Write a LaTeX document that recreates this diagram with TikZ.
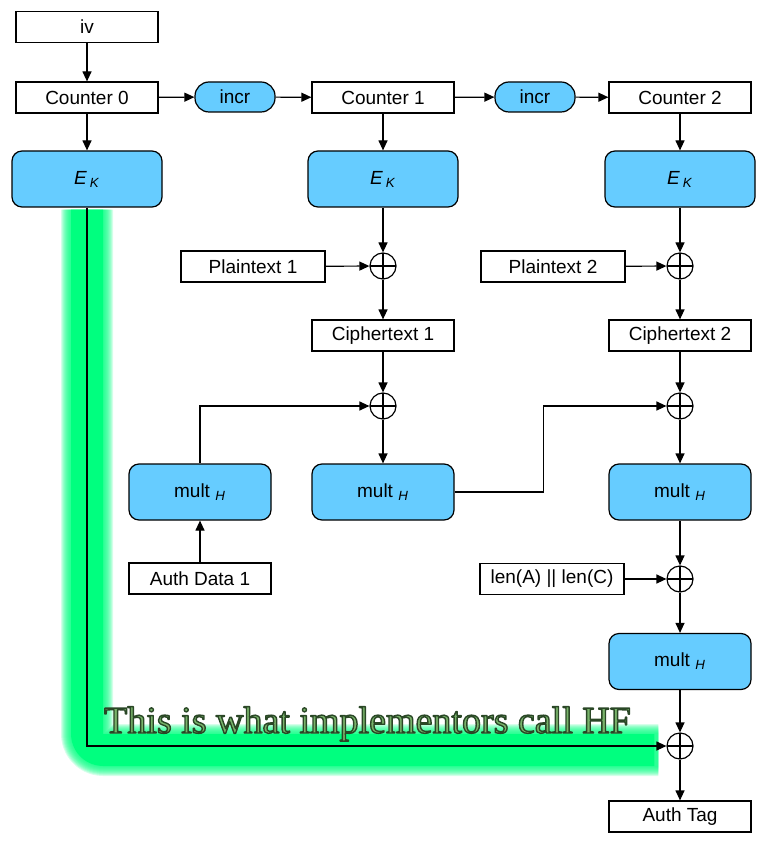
\documentclass[tikz,border=0pt]{standalone}
\usepackage{fontspec}
\setmainfont{Liberation Sans}
\newfontfamily\notefont{Liberation Serif}
\usetikzlibrary{
  arrows.meta,
  shapes,
  positioning,
  calc,
  backgrounds
}
\definecolor{gcmBlue}{HTML}{66CCFF}
\definecolor{gcmGlow}{HTML}{00FF7F}
\definecolor{gcmNote}{HTML}{78B36A}
\definecolor{gcmNoteDark}{HTML}{2A4726}
\tikzset{
  gcmnode/.style={
    draw, line width=0.6pt, font=\fontsize{9.5}{11}\selectfont, align=center, inner sep=0pt
  },
  databox/.style={gcmnode, fill=white, minimum width=71pt, minimum height=15.5pt},
  inbox/.style={databox, minimum width=72pt},
  cipher/.style={gcmnode, fill=gcmBlue, rounded corners=5pt, minimum width=75pt, minimum height=28pt},
  multbox/.style={gcmnode, fill=gcmBlue, rounded corners=5pt, minimum width=71pt, minimum height=28pt},
  incrbox/.style={gcmnode, fill=gcmBlue, rounded corners=7pt, minimum width=40pt, minimum height=15pt},
  xorop/.style={
    circle, draw, line width=0.6pt, fill=white, minimum size=13pt, inner sep=0pt,
    path picture={\draw[line width=0.6pt]
      (path picture bounding box.north) -- (path picture bounding box.south)
      (path picture bounding box.west) -- (path picture bounding box.east);}
  },
  flow/.style={-{Triangle[length=5pt,width=4.5pt]}, line width=0.6pt},
  glow/.style={gcmGlow, line join=round, rounded corners=8pt},
  notetext/.style={anchor=base, inner sep=0pt, font=\notefont\fontsize{19}{22}\selectfont}
}
\newcommand{\ek}{{\itshape E}\,\textsubscript{\itshape K}}
\newcommand{\mh}{mult \textsubscript{\itshape H}}
% filled and stroked text
\newcommand{\outlined}[1]{\leavevmode{\color{gcmNote}%
  \special{pdf:literal direct 0.165 0.278 0.149 RG 0.7 w 1 j 2 Tr}#1%
  \special{pdf:literal direct 0 Tr}}}

\begin{document}
\begin{tikzpicture}[x=0.5pt, y=-0.5pt]
  \useasboundingbox (0,0) rectangle (768,844);
  % counters
  \node[databox] (iv) at (87,27) {iv};
  \node[databox] (ctr0) at (87,97.5) {Counter 0};
  \node[incrbox] (incr1) at (235,97) {incr};
  \node[databox] (ctr1) at (383,97.5) {Counter 1};
  \node[incrbox] (incr2) at (535,97) {incr};
  \node[databox] (ctr2) at (680,97.5) {Counter 2};
  \node[cipher] (ek0) at (87,179) {\ek};
  \node[cipher] (ek1) at (383,179) {\ek};
  \node[cipher] (ek2) at (680,179) {\ek};
  % first block
  \node[inbox] (pt1) at (253,266.5) {Plaintext 1};
  \node[xorop] (x1) at (383,266) {};
  \node[databox] (ct1) at (383,335.5) {Ciphertext 1};
  \node[xorop] (xa) at (383,406) {};
  \node[multbox] (mult1) at (200,492) {\mh};
  \node[multbox] (mult2) at (383,492) {\mh};
  \node[databox] (ad1) at (200,578.5) {Auth Data 1};
  % second block
  \node[inbox] (pt2) at (553,266.5) {Plaintext 2};
  \node[xorop] (x2) at (680,266) {};
  \node[databox] (ct2) at (680,335.5) {Ciphertext 2};
  \node[xorop] (xb) at (680,406) {};
  \node[multbox] (mult3) at (680,492) {\mh};
  \node[inbox] (lenac) at (552,579) {len(A) || len(C)};
  \node[xorop] (xc) at (680,579) {};
  \node[multbox] (mult4) at (680,661.5) {\mh};
  \node[xorop] (xd) at (680,746) {};
  \node[databox] (tag) at (680,816.5) {Auth Tag};

  \foreach \a/\b in {iv/ctr0,ctr0/incr1,incr1/ctr1,ctr1/incr2,incr2/ctr2,
    ctr0/ek0,ctr1/ek1,ctr2/ek2,ek1/x1,pt1/x1,x1/ct1,ct1/xa,xa/mult2,ad1/mult1,
    ek2/x2,pt2/x2,x2/ct2,ct2/xb,xb/mult3,mult3/xc,lenac/xc,xc/mult4,mult4/xd,xd/tag}
    {\draw[flow] (\a) -- (\b);}
  \draw[flow] (mult1.north) |- (xa.west);
  \draw[flow] (mult2.east) -- ++(89,0) |- (xb.west);

  % the highlighted path
  \begin{scope}[on background layer]
    \foreach \w in {26,25,...,17}
      {\draw[glow, line width=\w pt, opacity=0.16] ($(ek0.south)+(0,2)$) |- ($(xd.west)+(-8,4)$);}
    \draw[glow, line width=16pt] ($(ek0.south)+(0,2)$) |- ($(xd.west)+(-12,4)$);
  \end{scope}
  \draw[flow] (ek0.south) |- (xd.west);

  % note
  \node[notetext] (note) at (367.5,733) {\outlined{This is what implementors call HF}};
\end{tikzpicture}
\end{document}
